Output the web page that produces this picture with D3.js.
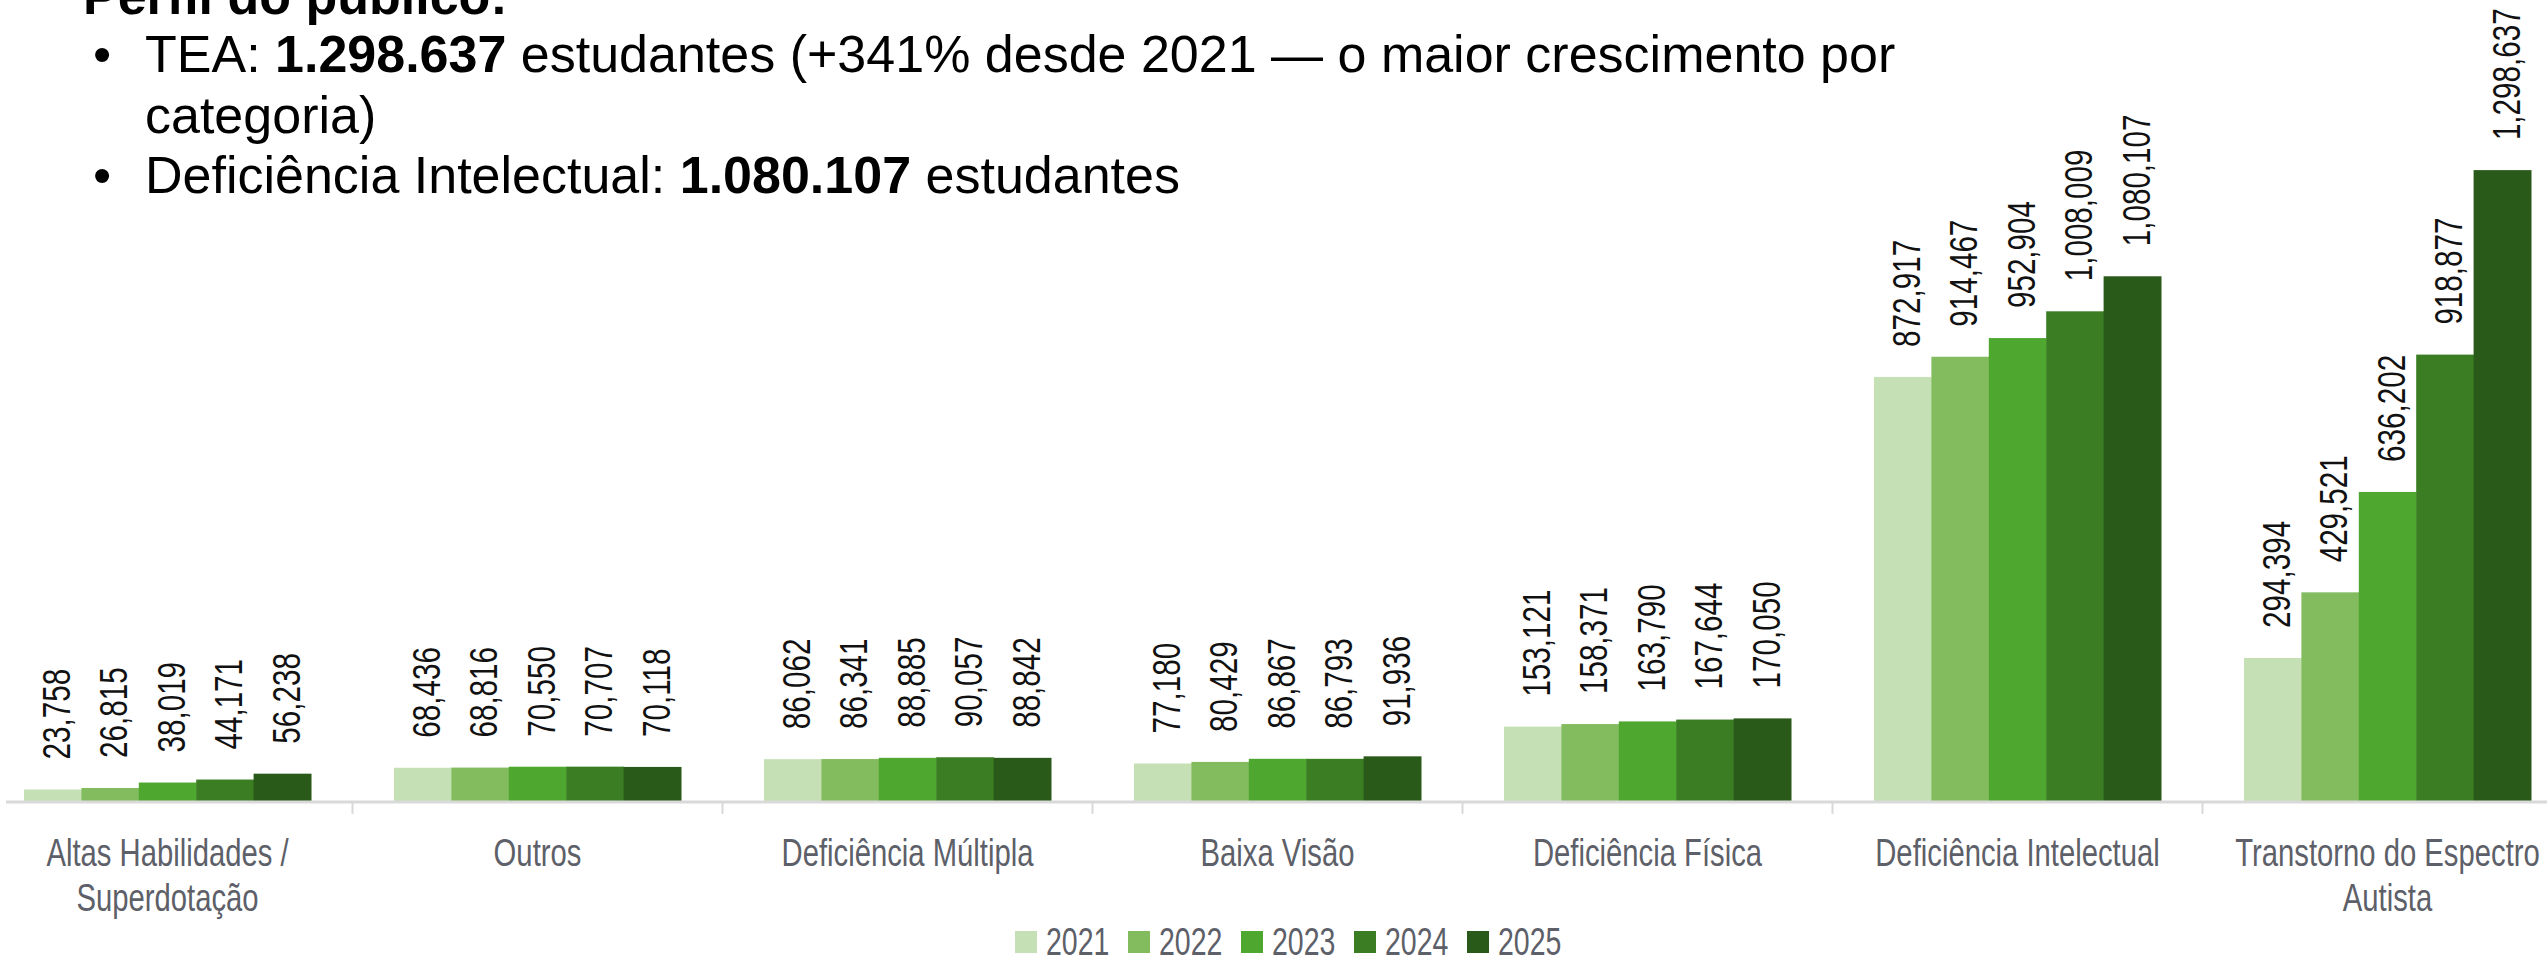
<!DOCTYPE html>
<html><head><meta charset="utf-8">
<script src="https://cdn.jsdelivr.net/npm/d3@7"></script>
<style>body{margin:0;background:#fff;} svg{display:block;background:#fff;}</style>
</head><body>
<svg id="chart" width="2547" height="965"></svg>
<script>
// ---- data ----
const categories = ["Altas Habilidades / Superdotação","Outros","Deficiência Múltipla","Baixa Visão","Deficiência Física","Deficiência Intelectual","Transtorno do Espectro Autista"];
const years = ["2021","2022","2023","2024","2025"];
const values2021 = [23758, 68436, 86062, 77180, 153121, 872917, 294394];
const values2022 = [26815, 68816, 86341, 80429, 158371, 914467, 429521];
const values2023 = [38019, 70550, 88885, 86867, 163790, 952904, 636202];
const values2024 = [44171, 70707, 90057, 86793, 167644, 1008009, 918877];
const values2025 = [56238, 70118, 88842, 91936, 170050, 1080107, 1298637];
const yearColors = ["#c5e0b4", "#83bb5f", "#4ea72e", "#3a7d22", "#2a5a19"];
const headerTitle = "Perfil do público:";
const bulletLines = [
  {bullet:true, parts:[["TEA: ",false],["1.298.637",true],[" estudantes (+341% desde 2021 — o maior crescimento por",false]]},
  {bullet:false, parts:[["categoria)",false]]},
  {bullet:true, parts:[["Deficiência Intelectual: ",false],["1.080.107",true],[" estudantes",false]]}
];

const series = [values2021, values2022, values2023, values2024, values2025];

const W = 2547, H = 965;
const svg = d3.select("#chart");
const baseY = 801;

const x0 = d3.scaleBand().domain(categories).range([-17.5, 2572.5]).paddingInner(0.2243).paddingOuter(0.11216);
const x1 = d3.scaleBand().domain(years).range([0, x0.bandwidth()]).padding(0);
const y = d3.scaleLinear().domain([0, 1648800]).range([baseY, 0]);
const color = d3.scaleOrdinal().domain(years).range(yearColors);
const fmt = d3.format(",");

const rows = [];
categories.forEach((c, ci) => years.forEach((yr, yi) => rows.push({cat:c, year:yr, value:series[yi][ci]})));

// ---- header text ----
const txt = svg.append("g").attr("font-family","'Liberation Sans', Arial, sans-serif").attr("fill","#000");
txt.append("text").attr("x",83).attr("y",14).attr("font-size",52).attr("font-weight","bold").text(headerTitle);
const lineY = [72, 133, 193];
bulletLines.forEach((ln, i) => {
  if (ln.bullet) txt.append("text").attr("x",93).attr("y",lineY[i]).attr("font-size",52).text("•");
  const t = txt.append("text").attr("x",145).attr("y",lineY[i]).attr("font-size",52);
  ln.parts.forEach(p => t.append("tspan").attr("font-weight", p[1] ? "bold" : "normal").text(p[0]));
});

// ---- bars ----
const groups = svg.append("g").selectAll("g").data(categories).join("g")
  .attr("transform", d => `translate(${x0(d)},0)`);
groups.selectAll("rect").data(c => rows.filter(r => r.cat === c)).join("rect")
  .attr("x", d => x1(d.year))
  .attr("width", x1.bandwidth() + 0.5)
  .attr("y", d => y(d.value))
  .attr("height", d => baseY - y(d.value))
  .attr("fill", d => color(d.year));

// ---- value labels ----
groups.selectAll("text.val").data(c => rows.filter(r => r.cat === c)).join("text")
  .attr("class","val")
  .attr("transform", d => `translate(${x1(d.year) + x1.bandwidth()/2 + 4},${y(d.value) - 30}) rotate(-90) scale(0.78,1)`)
  .attr("font-family","'Liberation Sans', Arial, sans-serif")
  .attr("font-size",38)
  .attr("dy","0.35em")
  .attr("fill","#111")
  .text(d => fmt(d.value));

// ---- axis ----
const axisColor = "#d9d9d9";
svg.append("line").attr("x1",6).attr("x2",W).attr("y1",baseY+1).attr("y2",baseY+1)
  .attr("stroke",axisColor).attr("stroke-width",3);
const stepW = x0.step();
categories.slice(1).forEach(c => {
  const bx = x0(c) - (stepW - x0.bandwidth())/2;
  svg.append("line").attr("x1",bx).attr("x2",bx).attr("y1",baseY).attr("y2",baseY+13)
    .attr("stroke",axisColor).attr("stroke-width",2);
});

// ---- category labels ----
const labelColor = "#5d6068";
const sx = 0.75;
categories.forEach(c => {
  const g = svg.append("g").attr("transform", `translate(${x0(c) + x0.bandwidth()/2},866) scale(${sx},1)`);
  const words = c.split(" ");
  const t = g.append("text").attr("text-anchor","middle").attr("font-family","'Liberation Sans', Arial, sans-serif")
    .attr("font-size",39).attr("fill",labelColor);
  let lines = [], cur = [];
  const probe = t.append("tspan");
  words.forEach(w => {
    const test = cur.concat([w]).join(" ");
    probe.text(test);
    if (probe.node().getComputedTextLength()*sx > 315 && cur.length) { lines.push(cur.join(" ")); cur = [w]; }
    else cur.push(w);
  });
  lines.push(cur.join(" "));
  probe.remove();
  lines.forEach((l, i) => t.append("tspan").attr("x",0).attr("y", i*45).text(l));
});

// ---- legend ----
const leg = svg.append("g");
years.forEach((yr, i) => {
  const lx = 1015 + i*113;
  leg.append("rect").attr("x",lx).attr("y",931).attr("width",22).attr("height",22).attr("fill",color(yr));
  leg.append("g").attr("transform",`translate(${lx+31},955) scale(${sx},1)`)
    .append("text").attr("font-family","'Liberation Sans', Arial, sans-serif").attr("font-size",38)
    .attr("fill",labelColor).text(yr);
});
</script>
</body></html>
